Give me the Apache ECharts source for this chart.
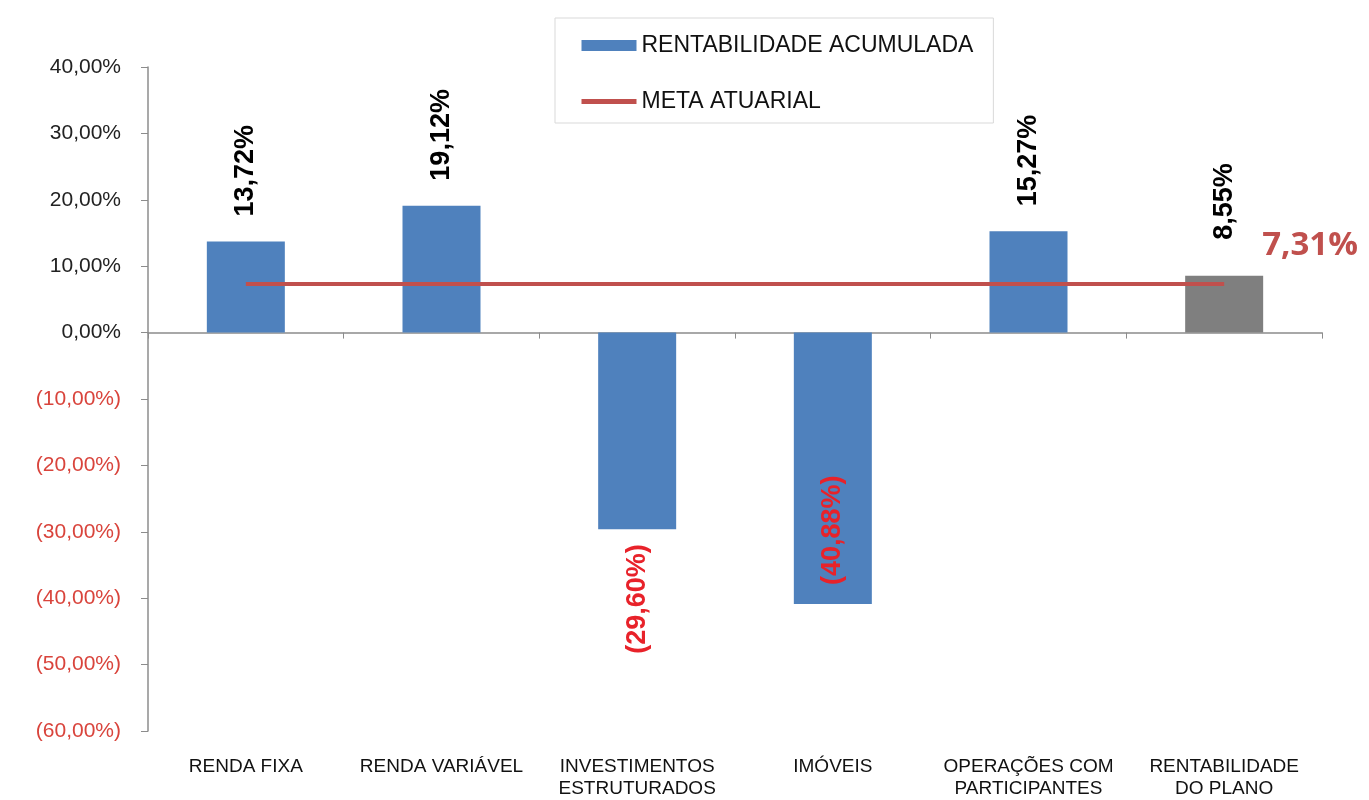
<!DOCTYPE html>
<html>
<head>
<meta charset="utf-8">
<script src="https://cdn.jsdelivr.net/npm/echarts@6/dist/echarts.min.js"></script>
<style>
html,body{margin:0;padding:0;background:#fff;}
#chart{width:1369px;height:800px;}
</style>
</head>
<body>
<div id="chart"></div>
<script>
const categories = ['RENDA FIXA', 'RENDA VARIÁVEL', 'INVESTIMENTOS\nESTRUTURADOS', 'IMÓVEIS', 'OPERAÇÕES COM\nPARTICIPANTES', 'RENTABILIDADE\nDO PLANO'];
const rentabilidade = [13.72, 19.12, -29.60, -40.88, 15.27, 8.55];
const metaAtuarial = [7.31, 7.31, 7.31, 7.31, 7.31, 7.31];
const yTicks = { min: -60, max: 40, interval: 10 };

const BLUE = '#4F81BD', GRAY = '#7F7F7F', RED_LINE = '#C0504D', NEG_RED = '#E8222A';
const fmt = v => v.toFixed(2).replace('.', ',') + '%';
const fmtSigned = v => v < 0 ? '(' + fmt(Math.abs(v)) + ')' : fmt(v);

const chart = echarts.init(document.getElementById('chart'));
const lastIdx = rentabilidade.length - 1;

const barData = rentabilidade.map((v, i) => {
  let label;
  if (v >= 0) {
    label = { position: 'top', distance: i === lastIdx ? 36 : 25, align: 'left', verticalAlign: 'middle', color: '#000' };
  } else if (v < -35) {
    label = { position: 'insideBottom', distance: 19, align: 'left', verticalAlign: 'middle', color: NEG_RED };
  } else {
    label = { position: 'bottom', distance: 15, align: 'right', verticalAlign: 'middle', color: NEG_RED };
  }
  return { value: v, label };
});

chart.setOption({
  animation: false,
  backgroundColor: '#fff',
  grid: { left: 148, right: 47, top: 67, bottom: 68 },
  legend: {
    orient: 'vertical',
    left: 555, top: 18,
    padding: [16, 20, 10, 24],
    itemGap: 33,
    itemWidth: 55, itemHeight: 11,
    borderColor: '#D9D9D9', borderWidth: 1,
    textStyle: { fontFamily: 'Liberation Sans', fontSize: 23, color: '#111' },
    data: [
      { name: 'RENTABILIDADE ACUMULADA', icon: 'rect', itemStyle: { color: BLUE } },
      { name: 'META ATUARIAL',
        itemStyle: { color: 'rgba(0,0,0,0)', borderColor: 'rgba(0,0,0,0)', borderWidth: 0 },
        lineStyle: { color: RED_LINE, width: 5 } }
    ]
  },
  xAxis: [
    {
      type: 'category', data: categories,
      axisLine: { onZero: true, lineStyle: { color: '#8C8C8C', width: 1.5 } },
      axisTick: { show: true, length: 6, lineStyle: { color: '#8C8C8C' } },
      axisLabel: { show: false }
    },
    {
      type: 'category', data: categories, position: 'bottom',
      axisLine: { show: false, onZero: false }, axisTick: { show: false },
      axisLabel: { margin: 25, fontFamily: 'Liberation Sans Narrow, Liberation Sans', fontSize: 19, color: '#111', lineHeight: 22, interval: 0 }
    }
  ],
  yAxis: {
    type: 'value', min: yTicks.min, max: yTicks.max, interval: yTicks.interval,
    splitLine: { show: false },
    axisLine: { show: true, lineStyle: { color: '#8C8C8C', width: 1.5 } },
    axisTick: { show: true, length: 7, lineStyle: { color: '#8C8C8C' } },
    axisLabel: {
      margin: 27,
      formatter: v => v < 0 ? '{n|' + fmtSigned(v) + '}' : '{p|' + fmtSigned(v) + '}',
      rich: {
        p: { fontFamily: 'Liberation Sans', fontSize: 21, color: '#222' },
        n: { fontFamily: 'Liberation Sans', fontSize: 21, color: '#D9443C' }
      }
    }
  },
  series: [
    {
      name: 'RENTABILIDADE ACUMULADA', type: 'bar', xAxisIndex: 0,
      barWidth: 78,
      itemStyle: { color: p => p.dataIndex === lastIdx ? GRAY : BLUE },
      label: {
        show: true, rotate: 90,
        fontFamily: 'Liberation Sans', fontWeight: 'bold', fontSize: 27,
        formatter: p => fmtSigned(p.value)
      },
      data: barData,
      z: 2
    },
    {
      name: 'META ATUARIAL', type: 'line', xAxisIndex: 0,
      data: metaAtuarial, symbol: 'none',
      lineStyle: { color: RED_LINE, width: 4 },
      itemStyle: { color: RED_LINE },
      endLabel: {
        show: true, distance: 38, offset: [0, -38],
        fontFamily: 'Open Sans', fontWeight: 'bold', fontSize: 33, color: RED_LINE,
        formatter: p => fmt(p.value)
      },
      z: 3
    }
  ]
});
</script>
</body>
</html>
